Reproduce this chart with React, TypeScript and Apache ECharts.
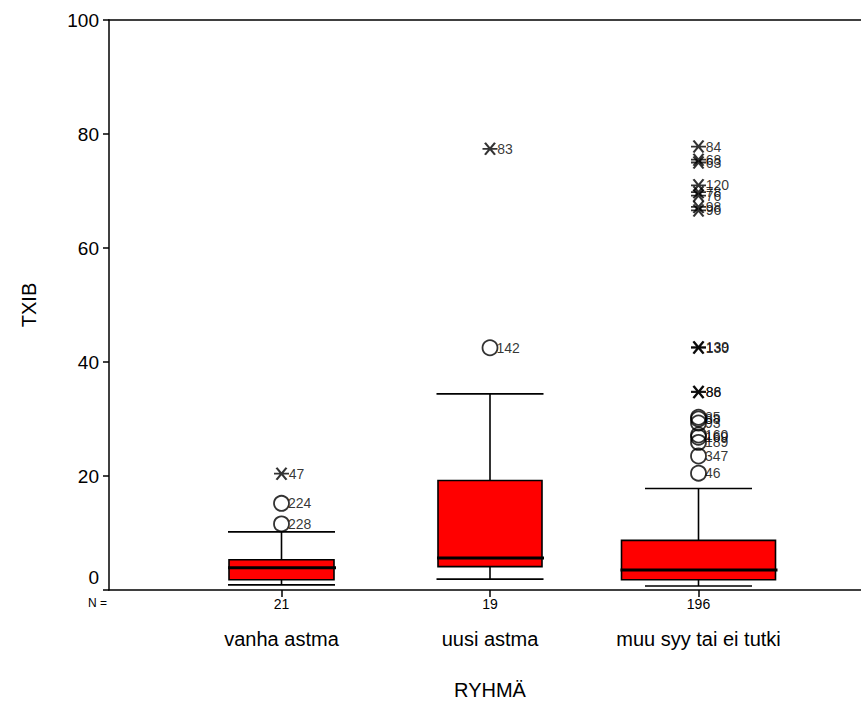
import React, { useEffect, useRef } from "react";
import * as echarts from "echarts";

// ---- data ----
const categories = ["vanha astma", "uusi astma", "muu syy tai ei tutki"];
const counts = [21, 19, 196];
const whiskerLow = [0.9, 1.9, 0.7];
const quartile1 = [1.8, 4.1, 1.8];
const medians = [3.9, 5.6, 3.5];
const quartile3 = [5.3, 19.2, 8.7];
const whiskerHigh = [10.2, 34.4, 17.8];

// outliers (circles)
const outlierGroup = [0, 0, 1, 2, 2, 2, 2, 2, 2, 2, 2];
const outlierValue = [11.6, 15.2, 42.5, 30.3, 30.0, 29.3, 27.2, 26.8, 25.9, 23.5, 20.5];
const outlierCase = ["228", "224", "142", "85", "88", "93", "160", "169", "189", "347", "46"];

// extremes (asterisks)
const extremeGroup = [0, 1, 2, 2, 2, 2, 2, 2, 2, 2, 2, 2, 2, 2];
const extremeValue = [20.4, 77.4, 77.8, 75.5, 75.0, 71.0, 69.8, 69.2, 67.2, 66.6, 42.6, 42.5, 34.8, 34.7];
const extremeCase = ["47", "83", "84", "68", "63", "120", "78", "76", "98", "96", "139", "130", "86", "88"];

const FONT = "'Liberation Sans', Arial, sans-serif";
const BOX_WIDTH = [105, 104, 154];
const CAP_WIDTH = 107;

export default function App() {
  const ref = useRef<HTMLDivElement>(null);
  useEffect(() => {
    if (!ref.current) return;
    const chart = echarts.init(ref.current, null, { renderer: "svg" });
    const boxData = categories.map((_, i) => [i, whiskerLow[i], quartile1[i], medians[i], quartile3[i], whiskerHigh[i]]);
    const circleData = outlierValue.map((v, i) => ({ value: [outlierGroup[i], v], name: outlierCase[i] }));
    const starData = extremeValue.map((v, i) => ({ value: [extremeGroup[i], v], name: extremeCase[i] }));
    const black = "#000";
    const option: any = {
      animation: false,
      backgroundColor: "#fff",
      textStyle: { fontFamily: FONT },
      grid: [
        { left: 109, right: -10, top: 20, bottom: 128 },
        { left: 177.25, right: 58.25, top: 20, bottom: 128 },
      ],
      xAxis: [
        {
          type: "value", gridIndex: 0, min: 0, max: 1, position: "bottom",
          axisLine: { show: true, lineStyle: { color: black, width: 1.5 } },
          axisTick: { show: false }, axisLabel: { show: false }, splitLine: { show: false },
        },
        {
          type: "value", gridIndex: 0, min: 0, max: 1, position: "top",
          axisLine: { show: true, lineStyle: { color: black, width: 1.5 } },
          axisTick: { show: false }, axisLabel: { show: false }, splitLine: { show: false },
        },
        {
          type: "category", gridIndex: 1, data: categories, position: "bottom",
          axisLine: { show: false },
          axisTick: { show: true, alignWithLabel: true, length: 7, lineStyle: { color: black, width: 1.5 } },
          axisLabel: {
            margin: 5,
            interval: 0,
            formatter: (v: string, idx: number) => `{n|${counts[idx]}}\n{c|${v}}`,
            rich: {
              n: { fontSize: 14, lineHeight: 17, color: black, fontFamily: FONT },
              c: { fontSize: 20, lineHeight: 54, color: black, fontFamily: FONT },
            },
          },
          name: "RYHMÄ",
          nameLocation: "middle",
          nameGap: 90,
          nameTextStyle: { fontSize: 20, color: black, fontFamily: FONT },
        },
      ],
      yAxis: [
        {
          type: "value", gridIndex: 0, min: 0, max: 100, interval: 20,
          axisLine: { show: true, lineStyle: { color: black, width: 1.5 } },
          axisTick: { show: true, length: 6, lineStyle: { color: black, width: 1.5 } },
          splitLine: { show: false },
          axisLabel: {
            margin: 10,
            fontSize: 19,
            color: black,
            fontFamily: FONT,
            formatter: (v: number) => (v === 0 ? `{z|${v}}` : `${v}`),
            rich: { z: { fontSize: 19, color: black, fontFamily: FONT, padding: [0, 0, 26, 0] } },
          },
          name: "TXIB",
          nameLocation: "middle",
          nameGap: 70,
          nameTextStyle: { fontSize: 20, color: black, fontFamily: FONT },
        },
        {
          type: "value", gridIndex: 1, min: 0, max: 100, interval: 20, show: false,
        },
      ],
      graphic: [
        { type: "text", left: 88, top: 597, style: { text: "N =", font: `12px ${FONT}`, fill: black } },
      ],
      series: [
        {
          type: "custom",
          xAxisIndex: 2,
          yAxisIndex: 1,
          data: boxData,
          encode: { x: 0, y: [1, 2, 3, 4, 5] },
          renderItem: (params: any, api: any) => {
            const c = api.value(0);
            const lo = api.coord([c, api.value(1)]);
            const p1 = api.coord([c, api.value(2)]);
            const md = api.coord([c, api.value(3)]);
            const p3 = api.coord([c, api.value(4)]);
            const hi = api.coord([c, api.value(5)]);
            const x = lo[0];
            const bw = BOX_WIDTH[params.dataIndex] / 2;
            const cw = CAP_WIDTH / 2;
            const ls = { stroke: black, lineWidth: 1.6 };
            return {
              type: "group",
              children: [
                { type: "line", shape: { x1: x, y1: lo[1], x2: x, y2: p1[1] }, style: ls },
                { type: "line", shape: { x1: x, y1: hi[1], x2: x, y2: p3[1] }, style: ls },
                { type: "line", shape: { x1: x - cw, y1: lo[1], x2: x + cw, y2: lo[1] }, style: ls },
                { type: "line", shape: { x1: x - cw, y1: hi[1], x2: x + cw, y2: hi[1] }, style: ls },
                {
                  type: "rect",
                  shape: { x: x - bw, y: p3[1], width: 2 * bw, height: p1[1] - p3[1] },
                  style: { fill: "#ff0000", stroke: black, lineWidth: 1.6 },
                },
                { type: "line", shape: { x1: x - bw - 1, y1: md[1], x2: x + bw + 2, y2: md[1] }, style: { stroke: black, lineWidth: 3 } },
              ],
            };
          },
        },
        {
          type: "scatter",
          xAxisIndex: 2,
          yAxisIndex: 1,
          symbol: "circle",
          symbolSize: 15,
          itemStyle: { color: "rgba(0,0,0,0)", borderColor: black, borderWidth: 1.8 },
          label: {
            show: true, position: "right", distance: -2, formatter: "{b}",
            fontSize: 14, color: black, fontFamily: FONT,
          },
          data: circleData,
        },
        {
          type: "scatter",
          xAxisIndex: 2,
          yAxisIndex: 1,
          symbol: "path://M0,6 L15,6 M2.5,0 L12.5,12 M12.5,0 L2.5,12",
          symbolSize: [15, 12],
          itemStyle: { color: "none", borderColor: black, borderWidth: 2 },
          label: {
            show: true, position: "right", distance: -3, formatter: "{b}",
            fontSize: 14, color: black, fontFamily: FONT,
          },
          data: starData,
        },
      ],
    };
    chart.setOption(option);
    return () => chart.dispose();
  }, []);
  return <div ref={ref} style={{ position: "fixed", left: 0, top: 0, width: 861, height: 718 }} />;
}
